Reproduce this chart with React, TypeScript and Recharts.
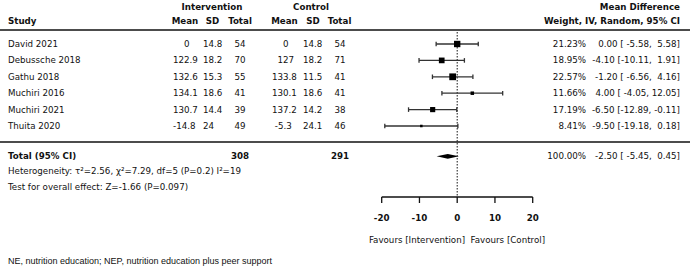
import {
  ComposedChart,
  Scatter,
  ErrorBar,
  XAxis,
  YAxis,
  ReferenceLine,
  ReferenceArea,
} from 'recharts'

const studies = ['David 2021', 'Debussche 2018', 'Gathu 2018', 'Muchiri 2016', 'Muchiri 2021', 'Thuita 2020']
const intMean = [0, 122.9, 132.6, 134.1, 130.7, -14.8]
const intSd = [14.8, 18.2, 15.3, 18.6, 14.4, 24]
const intN = [54, 70, 55, 41, 39, 49]
const ctlMean = [0, 127, 133.8, 130.1, 137.2, -5.3]
const ctlSd = [14.8, 18.2, 11.5, 18.6, 14.2, 24.1]
const ctlN = [54, 71, 41, 41, 38, 46]
const weights = [21.23, 18.95, 22.57, 11.66, 17.19, 8.41]
const meanDiff = [0, -4.1, -1.2, 4, -6.5, -9.5]
const ciLow = [-5.58, -10.11, -6.56, -4.05, -12.89, -19.18]
const ciHigh = [5.58, 1.91, 4.16, 12.05, -0.11, 0.18]
const rowPos = [1, 2, 3, 4, 5, 6]

const totalRow = 7.85
const totalInt = 308
const totalCtl = 291
const totalMd = -2.5
const totalLow = -5.45
const totalHigh = 0.45
const xTicks = [-20, -10, 0, 10, 20]

const W = 690
const H = 268
const plotTop = 27.6
const rowH = 16.4
const axisY = 197
const xAxisH = 40
const FONT = '"DejaVu Sans", sans-serif'
const INK = '#111'

const yPix = (v: number) => plotTop + v * rowH

const data = studies.map((s, i) => ({
  study: s,
  md: meanDiff[i],
  row: rowPos[i],
  w: weights[i],
  err: [meanDiff[i] - ciLow[i], ciHigh[i] - meanDiff[i]],
}))

const fmtCi = (m: number, lo: number, hi: number) =>
  `${m.toFixed(2)} [${lo.toFixed(2).padStart(6)}, ${hi.toFixed(2).padStart(5)}]`

const Square = (props: any) => {
  const { cx, cy, payload } = props
  const s = payload.w * 0.3
  return <rect x={cx - s / 2} y={cy - s / 2} width={s} height={s} fill="#000" />
}

const Diamond = (props: any) => {
  const { x, y, width, height } = props
  const pts = [
    [x, y + height / 2],
    [x + width / 2, y],
    [x + width, y + height / 2],
    [x + width / 2, y + height],
  ]
    .map((p) => p.join(','))
    .join(' ')
  return <polygon points={pts} fill="#000" />
}

function T(props: any) {
  const { children, bold, ...rest } = props
  return (
    <text
      fontFamily={FONT}
      fontSize={8.7}
      fill={INK}
      fontWeight={bold ? 'bold' : 'normal'}
      dominantBaseline="central"
      xmlSpace="preserve"
      style={{ whiteSpace: 'pre' }}
      {...rest}
    >
      {children}
    </text>
  )
}

export default function App() {
  const xMin = 381.7
  const xMax = 532.7
  const yMax = (axisY - plotTop) / rowH

  return (
    <div style={{ position: 'absolute', left: 0, top: 0, width: W, height: H, background: '#fff' }}>
      <ComposedChart
        width={W}
        height={H}
        margin={{ top: plotTop, right: W - xMax, bottom: H - axisY - xAxisH, left: xMin }}
      >
        <XAxis
          type="number"
          dataKey="md"
          domain={[-20, 20]}
          ticks={xTicks}
          allowDataOverflow
          height={xAxisH}
          tickSize={6}
          tickMargin={12}
          axisLine={{ stroke: INK, strokeWidth: 1.3 }}
          tickLine={{ stroke: INK, strokeWidth: 1.3 }}
          tick={{ fontSize: 8.7, fontFamily: FONT, fontWeight: 'bold', fill: INK }}
        />
        <YAxis type="number" dataKey="row" domain={[0, yMax]} reversed hide allowDataOverflow />
        <ReferenceLine
          segment={[
            { x: 0, y: 0.27 },
            { x: 0, y: yMax },
          ]}
          stroke={INK}
          strokeWidth={1}
          strokeDasharray="1.5 1.5"
        />
        <Scatter data={data} dataKey="row" shape={Square} isAnimationActive={false}>
          <ErrorBar dataKey="err" direction="x" width={2.3} stroke="#333" strokeWidth={1.3} />
        </Scatter>
        <ReferenceArea
          x1={totalLow}
          x2={totalHigh}
          y1={totalRow - 0.15}
          y2={totalRow + 0.15}
          shape={Diamond}
        />
      </ComposedChart>

      <svg
        width={W}
        height={H}
        style={{ position: 'absolute', left: 0, top: 0, pointerEvents: 'none' }}
      >
        <T x={212} y={7} bold textAnchor="middle">Intervention</T>
        <T x={311} y={7} bold textAnchor="middle">Control</T>
        <T x={680} y={7} bold textAnchor="end">Mean Difference</T>
        <T x={8} y={21} bold>Study</T>
        <T x={185} y={21} bold textAnchor="middle">Mean</T>
        <T x={212.5} y={21} bold textAnchor="middle">SD</T>
        <T x={240} y={21} bold textAnchor="middle">Total</T>
        <T x={284.5} y={21} bold textAnchor="middle">Mean</T>
        <T x={313} y={21} bold textAnchor="middle">SD</T>
        <T x={339.5} y={21} bold textAnchor="middle">Total</T>
        <T x={680} y={21} bold textAnchor="end">Weight, IV, Random, 95% CI</T>
        <line x1={0} x2={W} y1={30} y2={30} stroke={INK} strokeWidth={1.4} />

        {studies.map((s, i) => {
          const y = yPix(rowPos[i])
          return (
            <g key={s}>
              <T x={8} y={y}>{s}</T>
              <T x={173} y={y}>{String(intMean[i]).padStart(5)}</T>
              <T x={203} y={y}>{String(intSd[i])}</T>
              <T x={240} y={y} textAnchor="middle">{intN[i]}</T>
              <T x={272} y={y}>{String(ctlMean[i]).padStart(5)}</T>
              <T x={303} y={y}>{String(ctlSd[i])}</T>
              <T x={340} y={y} textAnchor="middle">{ctlN[i]}</T>
              <T x={586} y={y} textAnchor="end">{weights[i].toFixed(2)}%</T>
              <T x={680} y={y} textAnchor="end">{fmtCi(meanDiff[i], ciLow[i], ciHigh[i])}</T>
            </g>
          )
        })}

        <line x1={0} x2={W} y1={142} y2={142} stroke={INK} strokeWidth={1.4} />
        <T x={8} y={yPix(totalRow)} bold>Total (95% CI)</T>
        <T x={240} y={yPix(totalRow)} bold textAnchor="middle">{totalInt}</T>
        <T x={340} y={yPix(totalRow)} bold textAnchor="middle">{totalCtl}</T>
        <T x={586} y={yPix(totalRow)} textAnchor="end">100.00%</T>
        <T x={680} y={yPix(totalRow)} textAnchor="end">{fmtCi(totalMd, totalLow, totalHigh)}</T>
        <T x={8} y={171}>Heterogeneity: τ²=2.56, χ²=7.29, df=5 (P=0.2) I²=19</T>
        <T x={8} y={187}>Test for overall effect: Z=-1.66 (P=0.097)</T>
        <T x={457} y={240} textAnchor="middle">Favours [Intervention]  Favours [Control]</T>
        <text
          x={8}
          y={261}
          fontFamily='"Liberation Sans", Arial, sans-serif'
          fontSize={9}
          fill={INK}
          dominantBaseline="central"
        >
          NE, nutrition education; NEP, nutrition education plus peer support
        </text>
      </svg>
    </div>
  )
}
